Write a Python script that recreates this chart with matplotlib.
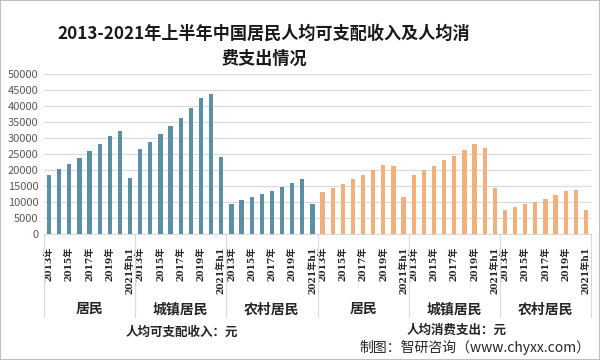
import matplotlib
matplotlib.use("Agg")
import matplotlib.pyplot as plt
import matplotlib.transforms as mtransforms
from matplotlib.patches import Rectangle

plt.rcParams['font.family'] = ['Noto Sans CJK SC', 'DejaVu Sans']

years = ["2013年", "2014年", "2015年", "2016年", "2017年", "2018年", "2019年", "2020年", "2021年h1"]
groups = ["居民", "城镇居民", "农村居民"]

income_all = [18311, 20167, 21966, 23821, 25974, 28228, 30733, 32189, 17642]
income_urban = [26467, 28844, 31195, 33616, 36396, 39251, 42359, 43834, 24125]
income_rural = [9430, 10489, 11422, 12363, 13432, 14617, 16021, 17131, 9248]

cons_all = [13220, 14491, 15712, 17111, 18322, 19853, 21559, 21210, 11471]
cons_urban = [18488, 19968, 21392, 23079, 24445, 26112, 28063, 27007, 14500]
cons_rural = [7485, 8383, 9223, 10130, 10955, 12124, 13328, 13713, 7426]

section_titles = ["人均可支配收入：元", "人均消费支出：元"]
title = "2013-2021年上半年中国居民人均可支配收入及人均消\n费支出情况"
source = "制图：智研咨询（www.chyxx.com）"

blue = "#5B8FA5"
orange = "#F1B07C"

fig = plt.figure(figsize=(6, 3.6), dpi=100)
ax = fig.add_axes([44/600, 126/360, 547/600, 160/360])

series = [(income_all, blue), (income_urban, blue), (income_rural, blue),
          (cons_all, orange), (cons_urban, orange), (cons_rural, orange)]
n = len(years)
xt, xl = [], []
for g, (vals, col) in enumerate(series):
    xs = [g * n + i for i in range(n)]
    ax.bar(xs, vals, width=0.42, color=col, zorder=3)
    for i in range(0, n, 2):
        xt.append(g * n + i)
        xl.append(years[i])

ax.set_xlim(-0.5, 6 * n - 0.5)
ax.set_ylim(0, 50000)
ax.set_yticks(range(0, 50001, 5000))
ax.tick_params(axis='y', length=0, labelsize=8, labelcolor="#595959", pad=4)
ax.grid(axis='y', color="#D9D9D9", linewidth=0.8, zorder=0)
for s in ["top", "right", "left"]:
    ax.spines[s].set_visible(False)
ax.spines["bottom"].set_color("#D9D9D9")

ax.set_xticks(xt)
ax.set_xticklabels(xl, rotation=90, fontsize=6.6, fontweight='bold', color="#262626")
ax.tick_params(axis='x', length=0, pad=9)
for lab in ax.get_xticklabels():
    lab.set_fontfamily(['DejaVu Serif', 'Noto Sans CJK SC'])

trans = mtransforms.blended_transform_factory(ax.transData, ax.transAxes)
for g in range(7):
    x = g * n - 0.5
    ax.plot([x, x], [0, -0.52], transform=trans, color="#D9D9D9", linewidth=0.8, clip_on=False)
for g in range(6):
    ax.text(g * n + (n - 1) / 2, -0.47, groups[g % 3], transform=trans, ha='center', va='center',
            fontsize=10, fontweight='bold', color="#262626")

fig.text(182/600, 1 - 332/360, section_titles[0], ha='center', va='center', fontsize=9, fontweight='bold', color="#262626")
fig.text(457/600, 1 - 330/360, section_titles[1], ha='center', va='center', fontsize=9, fontweight='bold', color="#262626")
fig.text(590/600, 1 - 347/360, source, ha='right', va='center', fontsize=10, color="#262626")

fig.text(264/600, 1 - 46/360, title, ha='center', va='center', fontsize=12.3, fontweight='bold',
         color="#1a1a1a", linespacing=1.5)

fig.patches.append(Rectangle((0, 0), 1, 1, transform=fig.transFigure, fill=False,
                             edgecolor="#BFBFBF", linewidth=1.5))

fig.savefig("out.png", dpi=100)
